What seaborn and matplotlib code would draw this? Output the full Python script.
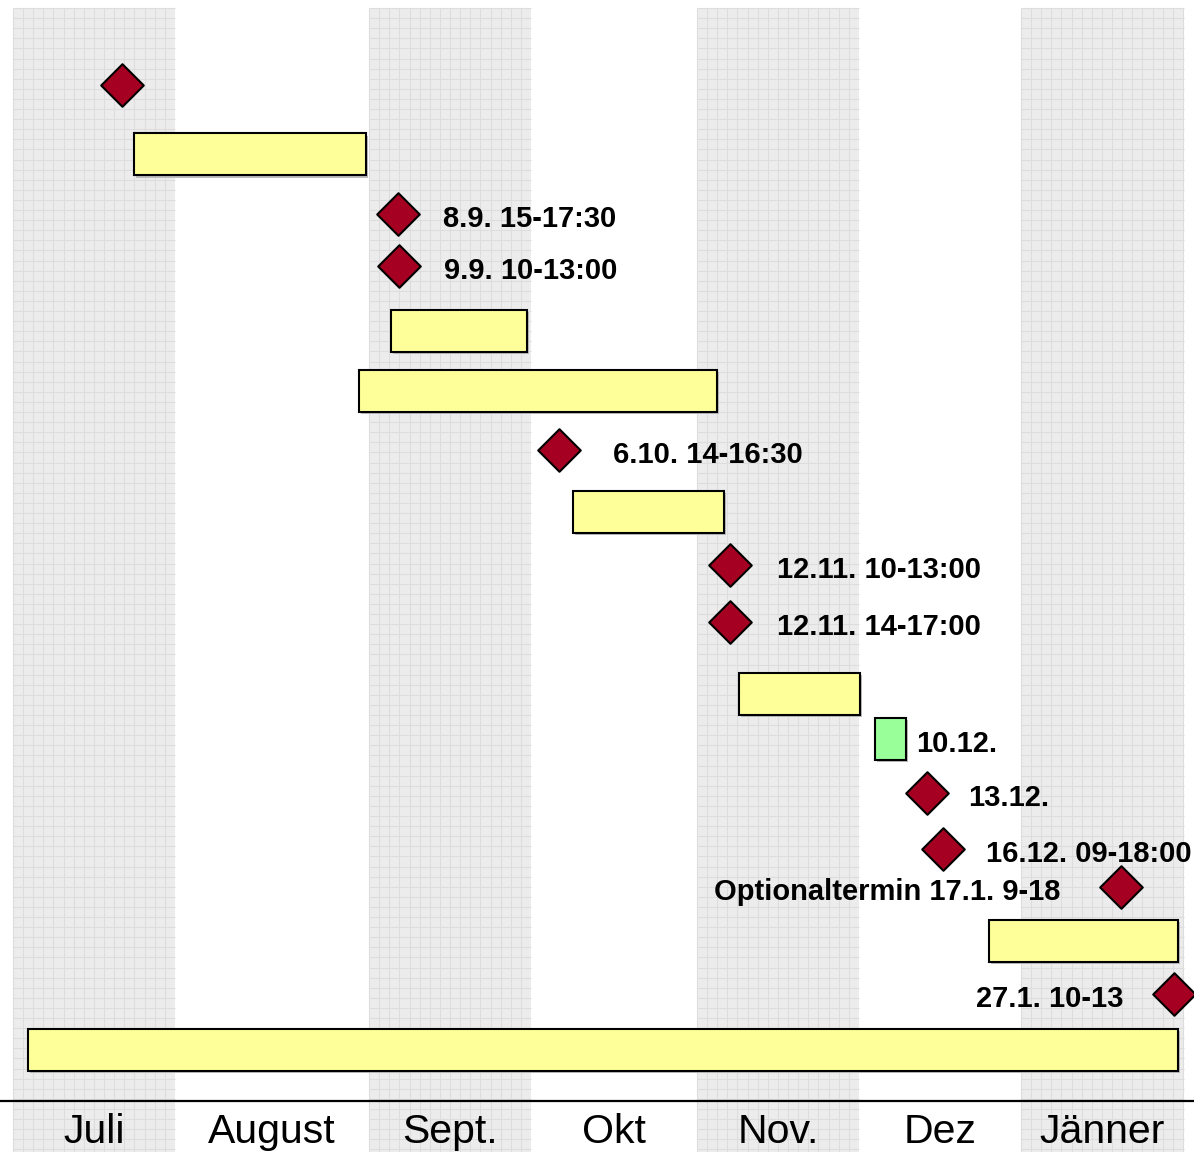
import numpy as np
import pandas as pd
import matplotlib
matplotlib.use("Agg")
import matplotlib.pyplot as plt
import seaborn as sns

# ---- data (x in month units: 0 = start of Juli; y = row position, top -> bottom) ----
months = ["Juli", "August", "Sept.", "Okt", "Nov.", "Dez", "Jänner"]
month_edges = [0.0, 1.0, 2.198, 3.198, 4.222, 5.222, 6.222, 7.228]
shaded_months = [0, 2, 4, 6]

bar_rows = [2.682, 5.747, 6.788, 8.889, 12.049, 12.830, 16.337, 18.229]
bar_start = [0.747, 2.333, 2.136, 3.457, 4.481, 5.321, 6.025, 0.093]
bar_end = [2.179, 3.173, 4.346, 4.389, 5.228, 5.512, 7.191, 7.191]
bar_kind = ["task", "task", "task", "task", "task", "event", "task", "task"]
bar_label = ["", "", "", "", "", "10.12.", "", ""]

ms_rows = [1.476, 3.715, 4.618, 7.813, 9.809, 10.799, 13.767, 14.740, 15.399, 17.257]
ms_x = [0.673, 2.377, 2.383, 3.370, 4.426, 4.426, 5.642, 5.741, 6.840, 7.167]
ms_label = ["", "8.9. 15-17:30", "9.9. 10-13:00", "6.10. 14-16:30",
            "12.11. 10-13:00", "12.11. 14-17:00", "13.12.", "16.12. 09-18:00",
            "Optionaltermin 17.1. 9-18", "27.1. 10-13"]

# label placement (pixels from the diamond centre; negative = text on the left)
ms_label_offset = [0, 45, 45, 54, 47, 47, 41, 43, -61, -51]

# ---- styling ----
sns.set_theme(style="white")
plt.rcParams["font.family"] = ["Liberation Sans", "DejaVu Sans"]
plt.rcParams["text.color"] = "black"

kind_color = {"task": "#FFFF99", "event": "#99FF99"}
diamond_color = "#A50021"

fig = plt.figure(figsize=(11.94, 11.52), dpi=100)
ax = fig.add_axes([0, 0, 1, 1])

band_top = 0.139
band_bottom = 20.0
grid_dx = 1.0 / 16
grid_dy = 10.1 / 57.6
for i in shaded_months:
    x0, x1 = month_edges[i], month_edges[i + 1]
    ax.axvspan(x0, x1, ymin=0, ymax=1 - band_top / 20.0, color="#ececec", zorder=0, lw=0)
    xs = np.arange(x0, x1, grid_dx)
    ax.vlines(xs, band_top, band_bottom, color="#dddddd", lw=0.8, zorder=0.5)
    ys = np.arange(band_top, band_bottom, grid_dy)
    ax.hlines(ys, x0, x1, color="#dddddd", lw=0.8, zorder=0.5)

# baseline
ax.axhline(19.115, color="black", lw=1.6, zorder=1)

# month labels
for i, m in enumerate(months):
    cx = (month_edges[i] + month_edges[i + 1]) / 2
    ax.text(cx, 19.844, m, ha="center", va="baseline", fontsize=29.5,
            family=["Liberation Sans", "DejaVu Sans"], color="black", zorder=3)

# bars
bars = pd.DataFrame({"row": bar_rows, "start": bar_start, "end": bar_end,
                     "kind": bar_kind, "label": bar_label})
bar_h = 42 / 57.6
for _, r in bars.iterrows():
    ax.barh(r["row"] + 0.04, r["end"] - r["start"], left=r["start"] + 0.012,
            height=bar_h, color="#bbbbbb", lw=0, zorder=1.5)
    ax.barh(r["row"], r["end"] - r["start"], left=r["start"], height=bar_h,
            color=kind_color[r["kind"]], edgecolor="black", lw=1.5, zorder=2)
    if r["label"]:
        ax.annotate(r["label"], (r["end"], r["row"]), xytext=(10, -5),
                    textcoords="offset pixels", ha="left", va="center",
                    fontsize=21, fontweight="bold", color="black", zorder=4)

# milestones
ms = pd.DataFrame({"x": ms_x, "row": ms_rows, "label": ms_label,
                   "off": ms_label_offset})
sns.scatterplot(data=ms, x="x", y="row", marker="D", s=470, color=diamond_color,
                edgecolor="black", linewidth=1.5, ax=ax, zorder=3, legend=False)
for _, r in ms.iterrows():
    if not r["label"]:
        continue
    ax.annotate(r["label"], (r["x"], r["row"]), xytext=(r["off"], -5),
                textcoords="offset pixels",
                ha="left" if r["off"] > 0 else "right", va="center",
                fontsize=21, fontweight="bold", color="black", zorder=4)

ax.set_xlim(-0.0802, 7.2901)
ax.set_ylim(20.0, 0.0)
ax.axis("off")

fig.savefig("out.png", dpi=100)
